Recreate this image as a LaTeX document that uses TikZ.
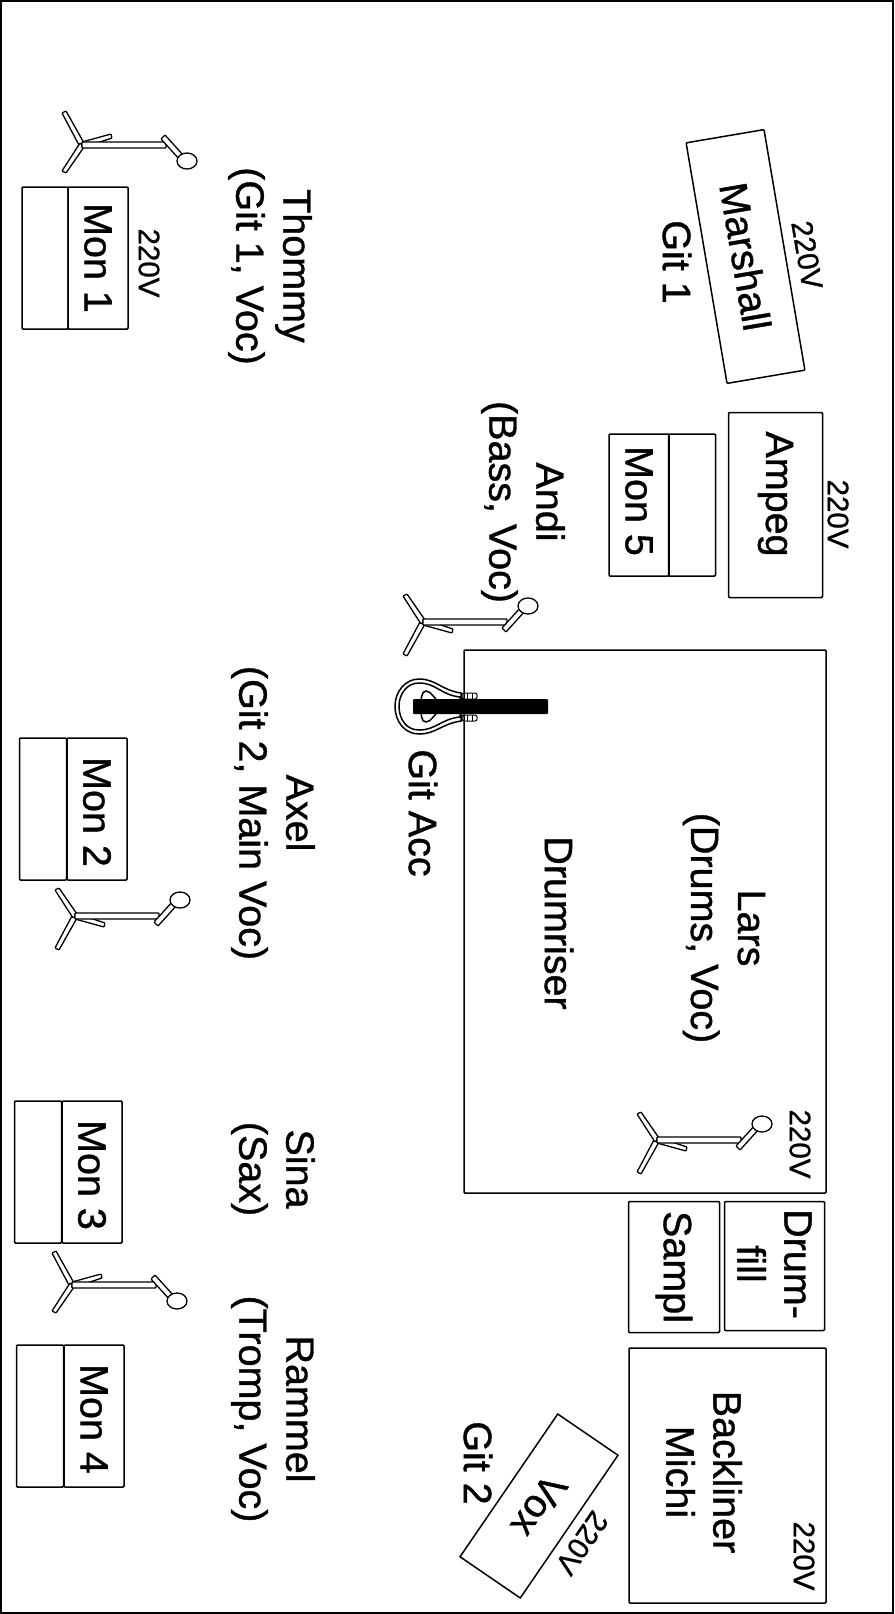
\documentclass[tikz,border=0pt]{standalone}
\usepackage{fontspec}
\setmainfont[UprightFeatures={FakeBold=1}]{Liberation Sans}
\tikzset{
  x=1pt, y=-1pt,
  label/.style={rotate=-90, align=center, inner sep=0pt, font=\fontsize{39.5}{47}\selectfont},
  small/.style={rotate=-90, inner sep=0pt, font=\fontsize{29.5}{32}\selectfont},
  gear/.style={draw, line width=1.5pt, rounded corners=1pt, align=center, inner sep=0pt, font=\fontsize{39.5}{47}\selectfont},
  stand/.style={line width=1.3pt, fill=white, rounded corners=0.8pt},
  micstand/.pic={
    % legs
    \draw[stand] (-20,-32) -- (-16,-34) -- (2,-2) -- (-2,2) -- cycle;
    \draw[stand] (-2,-2) -- (2,2) -- (-16,28) -- (-20,26) -- cycle;
    \draw[stand] (0,-3) -- (29,-11) -- (30,-7) -- (0,3) -- cycle;
    % pole and head
    \draw[stand] (0,-3) -- (84,-3) -- (84,3) -- (0,3) -- cycle;
    \draw[stand] (79,-6) -- (83,-10) -- (102,11) -- (98,15) -- cycle;
    \draw[stand] (105,16) ellipse (10 and 8);
  }
}
\begin{document}
\begin{tikzpicture}
    \useasboundingbox (0,0) rectangle (894,1614);
    \draw[line width=2pt] (1,1) rectangle (893,1613);

    % monitors
    \node[gear, rotate=-90, minimum width=142pt, minimum height=60pt] at (98,258) (mona) {Mon 1};
    \node[gear, rotate=-90, minimum width=142pt, minimum height=46pt] at (45,258) (monawedge) {};
    \node[gear, rotate=-90, minimum width=142pt, minimum height=60pt] at (97,809) (monb) {\hspace*{6pt}Mon 2};
    \node[gear, rotate=-90, minimum width=142pt, minimum height=47pt] at (43,809) (monbwedge) {};
    \node[gear, rotate=-90, minimum width=142pt, minimum height=60pt] at (92,1172) (monc) {\hspace*{6pt}Mon 3};
    \node[gear, rotate=-90, minimum width=142pt, minimum height=47pt] at (38,1172) (moncwedge) {};
    \node[gear, rotate=-90, minimum width=142pt, minimum height=60pt] at (94,1416) (mond) {\hspace*{6pt}Mon 4};
    \node[gear, rotate=-90, minimum width=142pt, minimum height=47pt] at (40,1416) (mondwedge) {};
    \node[gear, rotate=-90, minimum width=142pt, minimum height=60pt] at (639,505) (mone) {Mon 5\hspace*{8pt}};
    \node[gear, rotate=-90, minimum width=142pt, minimum height=47pt] at (692,505) (monewedge) {};

    % amps
    \node[gear, rotate=-80.35, minimum width=244pt, minimum height=79pt] at (745.5,256.5) (marshall) {Marshall};
    \node[gear, rotate=-90, minimum width=185pt, minimum height=94pt] at (775.5,505) (ampeg) {Ampeg\hspace*{22pt}};
    \node[gear, rotate=-124.4, minimum width=173pt, minimum height=73pt, rounded corners=0pt] at (539,1506) (vox) {Vox};

    % riser and backline
    \node[gear, rotate=-90, minimum width=543pt, minimum height=362pt] at (645,921.5) (riser) {};
    \node[gear, rotate=-90, minimum width=131pt, minimum height=91pt] at (674,1267) (sampl) {Sampl};
    \node[gear, rotate=-90, minimum width=129pt, minimum height=100pt] at (774.5,1266) (drumfill) {Drum-\hspace*{4pt}\\fill\hspace*{4pt}};
    \node[gear, rotate=-90, minimum width=255pt, minimum height=197pt] at (727.5,1475.5) (backliner) {};

    % names
    \node[label] at (270,266) (thommy) {Thommy\\(Git 1, Voc)};
    \node[label] at (273,813) (axel) {Axel\\(Git 2, Main Voc)};
    \node[label] at (273,1169) (sina) {Sina\\(Sax)};
    \node[label] at (273,1409) (rammel) {Rammel\\(Tromp, Voc)};
    \node[label] at (523,502) (andi) {Andi\\(Bass, Voc)};
    \node[label] at (724,928) (lars) {Lars\\(Drums, Voc)};
    \node[label] at (559,923) (drumriser) {Drumriser};
    \node[label] at (704,1472) (michi) {Backliner\\Michi};
    \node[label] at (423,813) (gitacc) {Git Acc};
    \node[label] at (677,262) (gita) {Git 1};
    \node[label] at (478,1463) (gitb) {Git 2};

    % power
    \node[small] at (149,263) (powera) {220V};
    \node[small, rotate=9.65] at (807,255) (powerb) {220V};
    \node[small] at (838,514) (powerc) {220V};
    \node[small] at (800,1144) (powerd) {220V};
    \node[small] at (804,1556) (powere) {220V};
    \node[small, rotate=-34.4] at (582,1543) (powerf) {220V};

    % mics
    \pic at (82,145) {micstand};
    \pic[yscale=-1] at (423,622) {micstand};
    \pic[yscale=-1] at (75,916) {micstand};
    \pic at (72,1285) {micstand};
    \pic[yscale=-1] at (657,1140) {micstand};

    % guitar
    \draw[line width=1.5pt, fill=white] (461,693) .. controls (441,690) and (436,679) .. (419,679) .. controls (405,679) and (395,692) .. (395,706) .. controls (395,722) and (405,734) .. (419,734) .. controls (436,734) and (441,724) .. (461,721) -- cycle;
    \draw[line width=1.5pt] (460,697) .. controls (441,695) and (436,683) .. (419,683) .. controls (407,683) and (399,694) .. (399,706) .. controls (399,720) and (407,730) .. (419,730) .. controls (436,730) and (441,719) .. (460,717) -- cycle;
    \draw[line width=1.5pt] (441,703) .. controls (434,700) and (432,691) .. (426,691) .. controls (421,691) and (421,700) .. (421,707) .. controls (421,714) and (421,722) .. (426,722) .. controls (432,722) and (434,713) .. (441,710) -- cycle;
    \draw[line width=1pt, rounded corners=2pt] (462,693) rectangle (477,699);
    \draw[line width=1pt, rounded corners=2pt] (462,715) rectangle (477,721);
    \draw[line width=1pt] (467,693) -- (467,699) (472,693) -- (472,699) (467,715) -- (467,721) (472,715) -- (472,721);
    \fill[rounded corners=1pt] (413,699) rectangle (548,714);
\end{tikzpicture}
\end{document}
